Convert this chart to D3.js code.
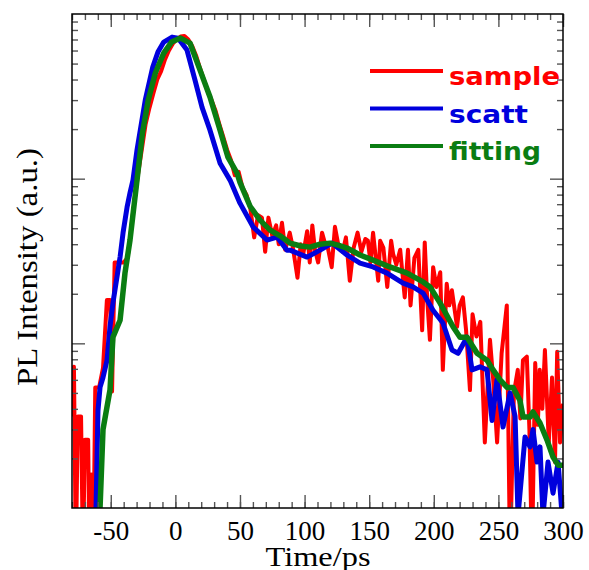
<!DOCTYPE html>
<html>
<head>
<meta charset="utf-8">
<script src="https://d3js.org/d3.v7.min.js"></script>
<style>
  body { margin: 0; background: #fff; }
</style>
</head>
<body>
<div id="chart"></div>
<script>
// time (ps) and PL intensity (a.u., log axis)
const sampleData = [
  [-80, 3.6], [-78.5, 7.2], [-77, 0.5], [-75.5, 3.6], [-73, 3.6], [-71.5, 0.5], [-70, 2.6], [-67.5, 2.6],
  [-66.5, 0.5], [-65, 1.6], [-63.5, 0.5], [-62, 5.4], [-59, 5.4], [-56, 7.1], [-53, 18.3], [-50.5, 18.3],
  [-49, 5.1], [-47, 31], [-44, 31], [-40, 31], [-37, 33],
  [-35, 44], [-32, 70], [-29, 105], [-26, 150], [-23, 215], [-20, 270], [-17, 330], [-14, 400], [-11, 450],
  [-8, 530], [-5, 600], [-2, 660], [1, 700], [4, 730], [7, 735], [10, 700], [13, 640], [16, 560], [19, 470],
  [22, 400], [25, 340], [28, 300], [31, 260], [34, 215], [37, 180], [40, 150], [43, 130], [46, 105], [49, 110],
  [52, 88], [55, 80], [58, 66], [61, 44], [64, 60], [67, 58], [69.5, 36], [72, 58], [75, 45], [78, 52], [80, 40],
  [82.5, 54], [85, 37], [88.5, 47], [91, 38], [94.5, 25], [97, 40], [99, 35], [102, 48], [104, 31], [106, 52],
  [108, 37], [110.5, 31], [113.5, 47], [116, 40], [118, 38], [121, 29], [123.5, 51], [126, 40], [129.5, 36],
  [132, 44], [135, 24], [138, 38], [141, 47], [144, 36], [147, 43], [149, 42], [151, 31], [153, 47], [157, 24],
  [158.5, 42], [161, 38], [164, 22], [167, 42], [168.5, 35], [171, 30], [174, 37], [177.5, 19], [180, 37],
  [182, 17], [185, 33], [188, 37], [191, 12], [193, 41], [195, 18], [197, 10.5], [199.5, 29], [202, 22],
  [205, 27], [207, 6.9], [210, 23], [212, 17], [214, 21], [218, 12.6], [220, 17], [222.5, 19], [225, 12],
  [228, 5.2], [230, 15], [233, 11], [236, 13.5], [239.5, 2.5], [243.5, 10.5], [246, 6], [249, 2.5],
  [252.5, 8.7], [256.5, 17], [259, 0.5], [262, 5], [265, 6.9], [267, 3.5], [269, 7.9], [272, 8.3], [274, 3],
  [276, 0.5], [278.5, 7.6], [280.5, 3.2], [282, 6.9], [284, 4], [286, 9.1], [289, 2.5], [291.5, 6.2],
  [293.8, 1.9], [295.5, 8.9], [297.7, 2.5], [300, 4.3]
];

const scattData = [
  [-61.4, 1.0], [-59.9, 3.9], [-58.3, 5.4], [-56, 6.2], [-52.9, 7.9], [-50.6, 12.6], [-48.3, 17.6],
  [-42.8, 33.4], [-40.5, 46.8], [-37.4, 67], [-35.1, 82], [-32.8, 98], [-29.7, 149], [-23.3, 300],
  [-17.5, 476], [-13.5, 587], [-9, 675], [-2.5, 724], [2, 714], [9, 604], [15.2, 397], [20.6, 272],
  [26.8, 197], [34.6, 124], [42.3, 98], [50, 71], [60.1, 51], [70.9, 42.4], [78.7, 44.2], [86.4, 36.8],
  [88.7, 36.8], [101.9, 33.4], [112, 36.8], [121.2, 40.6], [132.8, 34.4], [142.9, 30.7], [153, 29.1],
  [163.8, 26.7], [176.2, 23.2], [183.9, 22], [191.7, 20.2], [199.4, 15.9], [207.1, 13.3], [214.1, 9.1],
  [218.8, 8.7], [225.7, 10.9], [229.6, 6.9], [235.8, 7.2], [241.2, 6.9], [245.1, 3.4], [248.9, 6.0],
  [253.6, 3.1], [259, 5.0], [262.9, 3.6], [265.2, 0.9], [270.6, 2.7], [274.5, 2.35], [276.8, 3.0],
  [279.9, 1.9], [282.2, 2.35], [284.5, 0.9], [288.4, 1.9], [292.3, 1.23], [296.2, 1.9], [299.3, 0.9]
];

const fittingData = [
  [-58.3, 1.0], [-56, 3.0], [-50.6, 5.2], [-48.3, 10.9], [-42.8, 13.8], [-39, 26.7], [-35.1, 42.4],
  [-29.7, 98], [-25.5, 189], [-21, 300], [-15.5, 438], [-9, 579], [-3, 675], [4, 714], [11.3, 666],
  [19.1, 456], [26.8, 313], [34.6, 197], [40.7, 135], [47.7, 108], [50, 95], [57.8, 68], [65.5, 56],
  [73.3, 48.7], [81, 45], [88.7, 40.6], [97, 39], [104.2, 38.4], [112, 40], [119.7, 40.6], [126, 39.5],
  [132.8, 37.9], [142.9, 34.4], [153, 32], [166.1, 29.1], [179.3, 26.7], [191.7, 23.6], [197.1, 22],
  [204.8, 17.6], [214.9, 12.6], [220.3, 10.9], [225.7, 10.9], [233.5, 8.7], [241.2, 7.9], [245.9, 6.9],
  [251.3, 6.0], [256.7, 5.4], [261.3, 5.4], [266.7, 4.5], [269.1, 3.57], [274.5, 3.57], [276.8, 3.83],
  [282.2, 3.28], [287.6, 2.59], [292.3, 2.04], [296.2, 1.82], [300, 1.82]
];

const xMajor = [-50, 0, 50, 100, 150, 200, 250, 300];
const xMinor = d3.range(-80, 301, 10);
const yMajor = [10, 100];
const yMinor = [2, 3, 4, 5, 6, 7, 8, 9, 20, 30, 40, 50, 60, 70, 80, 90, 200, 300, 400, 500, 600, 700, 800, 900];

const legendNames = ["sample", "scatt", "fitting"];
const legendColors = ["#ff0000", "#0000dd", "#0a7d12"];

const W = 589, H = 570;
const serif = '"Liberation Serif", "Times New Roman", "Nimbus Roman", serif';
const svg = d3.select('#chart').append('svg')
  .attr('width', W).attr('height', H);

const xScale = d3.scaleLinear().domain([-80, 300]).range([72, 563]);
const yScale = d3.scaleLog().domain([1, 1000]).range([508, 14]);

svg.append('clipPath').attr('id', 'plotclip')
  .append('rect')
  .attr('x', 72).attr('y', 14).attr('width', 491).attr('height', 494);

const line = d3.line()
  .x(d => xScale(d[0]))
  .y(d => yScale(d[1]));

const series = [
  { data: sampleData, color: legendColors[0], width: 4 },
  { data: scattData, color: legendColors[1], width: 5 },
  { data: fittingData, color: legendColors[2], width: 5.5 }
];

const plot = svg.append('g').attr('clip-path', 'url(#plotclip)');
plot.selectAll('path.series')
  .data(series)
  .join('path')
  .attr('class', 'series')
  .attr('fill', 'none')
  .attr('stroke', d => d.color)
  .attr('stroke-width', d => d.width)
  .attr('stroke-linejoin', 'round')
  .attr('d', d => line(d.data));

// axes, ticks pointing inward
function styleAxis(g) {
  g.select('.domain').remove();
  g.selectAll('.tick line').attr('stroke', '#555').attr('stroke-width', 1.4);
}

svg.append('g').attr('transform', 'translate(0,508)')
  .call(d3.axisBottom(xScale).tickValues(xMinor).tickSize(-6).tickFormat(''))
  .call(styleAxis);
const xAxis = svg.append('g').attr('transform', 'translate(0,508)')
  .call(d3.axisBottom(xScale).tickValues(xMajor).tickSize(-13).tickPadding(13).tickFormat(d => d))
  .call(styleAxis);
xAxis.selectAll('text')
  .attr('fill', '#000')
  .style('font-family', serif)
  .style('font-size', '27px');

svg.append('g').attr('transform', 'translate(0,14)')
  .call(d3.axisTop(xScale).tickValues(xMinor).tickSize(-6).tickFormat(''))
  .call(styleAxis);
svg.append('g').attr('transform', 'translate(0,14)')
  .call(d3.axisTop(xScale).tickValues(xMajor).tickSize(-13).tickFormat(''))
  .call(styleAxis);

svg.append('g').attr('transform', 'translate(72,0)')
  .call(d3.axisLeft(yScale).tickValues(yMinor).tickSize(-6).tickFormat(''))
  .call(styleAxis);
svg.append('g').attr('transform', 'translate(72,0)')
  .call(d3.axisLeft(yScale).tickValues(yMajor).tickSize(-13).tickFormat(''))
  .call(styleAxis);
svg.append('g').attr('transform', 'translate(563,0)')
  .call(d3.axisRight(yScale).tickValues(yMinor).tickSize(-6).tickFormat(''))
  .call(styleAxis);
svg.append('g').attr('transform', 'translate(563,0)')
  .call(d3.axisRight(yScale).tickValues(yMajor).tickSize(-13).tickFormat(''))
  .call(styleAxis);

// frame
svg.append('rect')
  .attr('x', 72).attr('y', 14).attr('width', 491).attr('height', 494)
  .attr('fill', 'none').attr('stroke', '#000').attr('stroke-width', 1.5);

// axis titles
svg.append('text')
  .attr('x', 318).attr('y', 566)
  .attr('text-anchor', 'middle')
  .attr('textLength', 105).attr('lengthAdjust', 'spacingAndGlyphs')
  .style('font-family', serif)
  .style('font-size', '28px')
  .text('Time/ps');

svg.append('text')
  .attr('transform', 'translate(37,267) rotate(-90)')
  .attr('text-anchor', 'middle')
  .attr('textLength', 238).attr('lengthAdjust', 'spacingAndGlyphs')
  .style('font-family', serif)
  .style('font-size', '30px')
  .text('PL Intensity (a.u.)');

// legend
const legendW = [111, 79, 92];
const legend = svg.append('g');
legendNames.forEach((name, i) => {
  const y = 71 + i * 37.5;
  legend.append('line')
    .attr('x1', 370).attr('x2', 443)
    .attr('y1', y).attr('y2', y)
    .attr('stroke', legendColors[i]).attr('stroke-width', 4);
  legend.append('text')
    .attr('x', 449).attr('y', y + 14)
    .attr('fill', legendColors[i])
    .attr('textLength', legendW[i]).attr('lengthAdjust', 'spacingAndGlyphs')
    .style('font-family', '"DejaVu Sans", "Liberation Sans", sans-serif')
    .style('font-weight', 'bold')
    .style('font-size', '25px')
    .text(name);
});
</script>
</body>
</html>
